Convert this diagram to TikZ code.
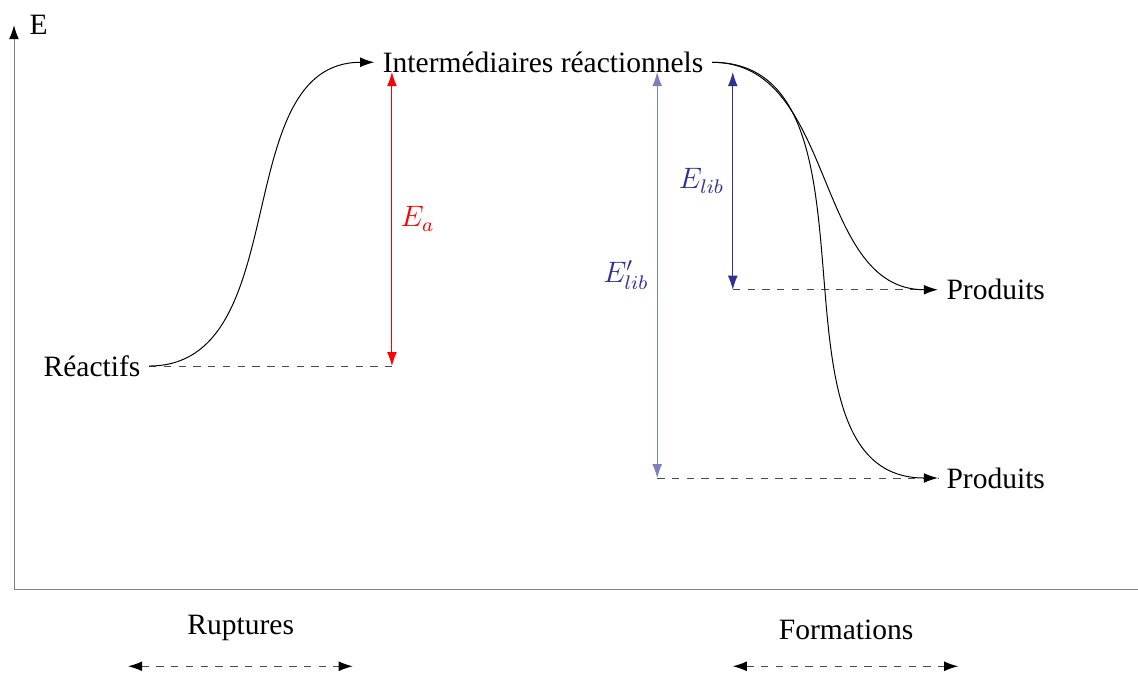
\documentclass[tikz,border=0pt]{standalone}
\usepackage{fontspec}
\setmainfont{Liberation Serif}
\usetikzlibrary{arrows.meta}
\definecolor{bleulib}{RGB}{46,49,146}
\definecolor{bleuclair}{RGB}{125,128,190}

\begin{document}
\begin{tikzpicture}[
    every node/.style={font=\large},
    >={Latex[length=2mm, width=1.4mm]},
    axe/.style={draw=gray, -{Latex[length=2mm, width=1.4mm, color=black]}},
    pointille/.style={dashed, draw=gray!60!black},
    courbe/.style={->, black},
    duree/.style={dashed, draw=gray!60!black, {Latex[length=2mm, width=1.4mm, color=black]}-{Latex[length=2mm, width=1.4mm, color=black]}}]
  \useasboundingbox (-0.2,-1.19) rectangle (16.06,8.43);
  % axes
  \draw[axe] (0,0) -- (0,8.07) node[right, xshift=1mm] (E) {E};
  \draw[draw=gray] (0,0) -- (16.06,0);
  % niveaux d'energie
  \node[anchor=east] (reac) at (1.93,3.2) {Réactifs};
  \node (inter) at (7.56,7.54) {Intermédiaires réactionnels};
  \node[anchor=west] (prod1) at (13.2,4.29) {Produits};
  \node[anchor=west] (prod2) at (13.2,1.6) {Produits};
  \coordinate (a1) at (5.4,3.2);
  \coordinate (a2) at (5.4,7.4);
  \coordinate (l1) at (10.27,4.29);
  \coordinate (l2) at (10.27,7.4);
  \coordinate (m1) at (9.19,1.6);
  \coordinate (m2) at (9.19,7.4);
  \draw[pointille] (reac.east) -- (a1);
  \draw[pointille] (l1) -- (prod1.west);
  \draw[pointille] (m1) -- (prod2.west);
  \draw[courbe] (reac.east) to[out=0, in=180] (inter.west);
  \draw[courbe] (inter.east) to[out=0, in=180] (prod1.west);
  \draw[courbe] (inter.east) to[out=0, in=180] (prod2.west);
  \draw[<->, red] (a1) -- (a2) node[midway, right] {$E_a$};
  \draw[<->, bleuclair] (m1) -- (m2) node[midway, left, text=bleulib] {$E'_{lib}$};
  \draw[<->, bleulib] (l1) -- (l2) node[midway, left] {$E_{lib}$};
  % etapes
  \node (rup) at (3.24,-0.54) {Ruptures};
  \node (form) at (11.89,-0.57) {Formations};
  \coordinate (r1) at (1.63,-1.09);
  \coordinate (r2) at (4.84,-1.09);
  \coordinate (f1) at (10.27,-1.09);
  \coordinate (f2) at (13.49,-1.09);
  \draw[duree] (r1) -- (r2);
  \draw[duree] (f1) -- (f2);
\end{tikzpicture}
\end{document}
